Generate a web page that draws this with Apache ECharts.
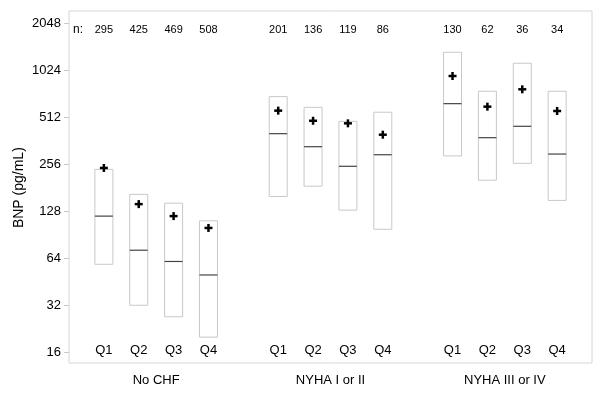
<!DOCTYPE html>
<html>
<head>
<meta charset="utf-8">
<script src="https://cdn.jsdelivr.net/npm/echarts@6/dist/echarts.min.js"></script>
<style>html,body{margin:0;padding:0;background:#fff}#c{width:604px;height:412px}</style>
</head>
<body>
<div id="c"></div>
<script>
// ---- data ----
var groups = ['No CHF', 'NYHA I or II', 'NYHA III or IV'];
var quartiles = ['Q1', 'Q2', 'Q3', 'Q4'];
var nCounts = [295, 425, 469, 508, 201, 136, 119, 86, 130, 62, 36, 34];
var boxLow = [58.5, 32, 27, 20, 159, 185, 130, 98, 289, 202, 259, 150];
var medians = [119, 72, 61, 50, 401, 331, 248, 294, 624, 378, 447, 297];
var boxHigh = [237, 164, 144, 111, 692, 591, 481, 550, 1331, 749, 1132, 749];
var means = [242, 142, 119, 100, 563, 485, 467, 395, 938, 597, 771, 560];
var yTickExps = [4, 5, 6, 7, 8, 9, 10, 11]; // 16 .. 2048

// ---- build ----
var FONT = "'Liberation Sans', Arial, sans-serif";
var log2 = function (v) { return Math.log(v) / Math.LN2; };
var items = [];
for (var i = 0; i < nCounts.length; i++) {
  var g = Math.floor(i / 4), q = i % 4;
  var slot = g * 5 + q + 1;
  items.push([slot, log2(boxLow[i]), log2(medians[i]), log2(boxHigh[i]), log2(means[i])]);
}

var chart = echarts.init(document.getElementById('c'), null, {renderer: 'canvas'});
chart.setOption({
  animation: false,
  backgroundColor: '#fff',
  grid: [
    {left: 69, right: 12, top: 11, bottom: 49, show: true, borderColor: '#d6d6d6', borderWidth: 1, backgroundColor: 'transparent'},
    {left: 69, right: 12, top: 23, bottom: 59.7, show: false}
  ],
  xAxis: [
    {gridIndex: 0, type: 'value', min: 0, max: 15, show: false},
    {gridIndex: 0, type: 'category', data: groups, position: 'bottom', boundaryGap: true,
      axisLine: {show: false}, axisTick: {show: false}, splitLine: {show: false},
      axisLabel: {fontSize: 13, color: '#000', fontFamily: FONT, margin: 11}},
    {gridIndex: 1, type: 'value', min: 0, max: 15, show: false}
  ],
  yAxis: [
    {gridIndex: 0, type: 'value', min: 4 - (363 - 352.3) / 47.04, max: 11 + (23 - 11) / 47.04, show: false},
    {gridIndex: 1, type: 'value', min: yTickExps[0], max: yTickExps[yTickExps.length - 1], interval: 1,
      axisLine: {show: false}, splitLine: {show: false},
      axisTick: {show: true, length: 5, lineStyle: {color: '#c8c8c8'}},
      axisLabel: {fontSize: 13, color: '#000', fontFamily: FONT, margin: 8,
        formatter: function (v) { return String(Math.round(Math.pow(2, v))); }},
      name: 'BNP (pg/mL)', nameLocation: 'middle', nameGap: 43, nameMoveOverlap: false,
      nameTextStyle: {fontSize: 14, color: '#000', fontFamily: FONT}}
  ],
  series: [{
    type: 'custom',
    xAxisIndex: 0, yAxisIndex: 0,
    data: items,
    encode: {x: 0, y: [1, 2, 3, 4]},
    clip: false,
    renderItem: function (params, api) {
      var idx = params.dataIndex;
      var cs = params.coordSys;
      var x = api.value(0);
      var pLo = api.coord([x, api.value(1)]);
      var pMed = api.coord([x, api.value(2)]);
      var pHi = api.coord([x, api.value(3)]);
      var pMean = api.coord([x, api.value(4)]);
      var w = 18, ps = 8, pt = 2.5;
      var children = [
        {type: 'rect', shape: {x: pHi[0] - w / 2, y: pHi[1], width: w, height: pLo[1] - pHi[1]},
          style: {fill: 'rgba(0,0,0,0)', stroke: '#c8c8c8', lineWidth: 1}},
        {type: 'line', shape: {x1: pMed[0] - w / 2, y1: pMed[1], x2: pMed[0] + w / 2, y2: pMed[1]},
          style: {stroke: '#444', lineWidth: 1.2}},
        {type: 'rect', shape: {x: pMean[0] - ps / 2, y: pMean[1] - pt / 2, width: ps, height: pt}, style: {fill: '#000'}},
        {type: 'rect', shape: {x: pMean[0] - pt / 2, y: pMean[1] - ps / 2, width: pt, height: ps}, style: {fill: '#000'}},
        {type: 'text', style: {text: String(nCounts[idx]), x: pMed[0], y: cs.y + 18.5, align: 'center', verticalAlign: 'middle',
          fontSize: 11, fontFamily: FONT, fill: '#000'}},
        {type: 'text', style: {text: quartiles[idx % 4], x: pMed[0], y: cs.y + cs.height - 12.5, align: 'center', verticalAlign: 'middle',
          fontSize: 13, fontFamily: FONT, fill: '#000'}}
      ];
      if (idx === 0) {
        children.push({type: 'text', style: {text: 'n:', x: cs.x + 4, y: cs.y + 18.5, align: 'left', verticalAlign: 'middle',
          fontSize: 12, fontFamily: FONT, fill: '#000'}});
      }
      return {type: 'group', children: children};
    }
  }]
});
</script>
</body>
</html>
